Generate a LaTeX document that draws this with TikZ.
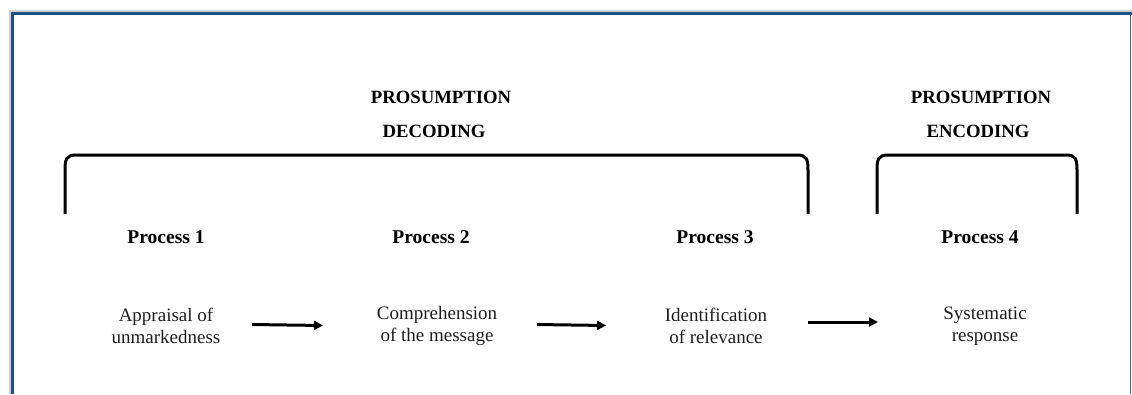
\documentclass[tikz,border=0pt]{standalone}
\usepackage{fontspec}
\setmainfont{Liberation Serif}
\usetikzlibrary{arrows.meta}
\definecolor{frameblue}{RGB}{31,78,137}
\definecolor{textgrey}{RGB}{30,30,30}
\begin{document}
\begin{tikzpicture}[x=1pt,y=-1pt,
  heading/.style={font=\fontsize{18.7}{22}\selectfont\bfseries, text=black, inner sep=0pt, anchor=base},
  proc/.style={font=\fontsize{19.5}{22}\selectfont\bfseries, text=black, inner sep=0pt, anchor=base},
  body/.style={font=\fontsize{19}{22}\selectfont, text=textgrey, align=center, inner sep=0pt},
  bracketline/.style={line width=3pt, black},
  flow/.style={line width=3pt, -{Triangle[length=9pt,width=9pt]}}]
\useasboundingbox (0,0) rectangle (1132,394);
% frame with soft shadow
\draw[line width=2pt, black!18] (9.5,394) -- (9.5,10.5) -- (1132,10.5);
\draw[line width=3pt, frameblue] (12.5,394) -- (12.5,13.5) -- (1132,13.5);
\draw[line width=1.2pt, frameblue!85] (1130.5,13.5) -- (1130.5,394);

% headings
\node[heading] (h1a) at (441,103) {PROSUMPTION};
\node[heading] (h1b) at (434,137) {DECODING};
\node[heading] (h2a) at (981,103) {PROSUMPTION};
\node[heading] (h2b) at (978,137) {ENCODING};

% brackets
\draw[bracketline] (65,214) -- (65,170) .. controls (65,159) and (66.5,155) .. (76,155)
  -- (797,155) .. controls (806.5,155) and (808,159) .. (808,170) -- (808,214);
\draw[bracketline] (877,214) -- (877,170) .. controls (877,159) and (878.5,155) .. (888,155)
  -- (1066,155) .. controls (1075.5,155) and (1077,159) .. (1077,170) -- (1077,214);

% process titles
\node[proc] (p1) at (166,243) {Process 1};
\node[proc] (p2) at (431,243) {Process 2};
\node[proc] (p3) at (715,243) {Process 3};
\node[proc] (p4) at (980,243) {Process 4};

% process descriptions
\node[body] (d1) at (166,326) {Appraisal of\\unmarkedness};
\node[body] (d2) at (437,326) {Comprehension\\of the message};
\node[body] (d3) at (716,326) {Identification\\of relevance};
\node[body] (d4) at (985,326) {Systematic\\response};

% arrow end points between the descriptions
\coordinate (s1) at (252,324.5);
\coordinate (e1) at (323,325.5);
\coordinate (s2) at (537,324.5);
\coordinate (e2) at (606,325.5);
\coordinate (s3) at (808,322);
\coordinate (e3) at (878,322);

% flow arrows
\draw[flow] (s1) -- (e1);
\draw[flow] (s2) -- (e2);
\draw[flow] (s3) -- (e3);
\end{tikzpicture}
\end{document}
